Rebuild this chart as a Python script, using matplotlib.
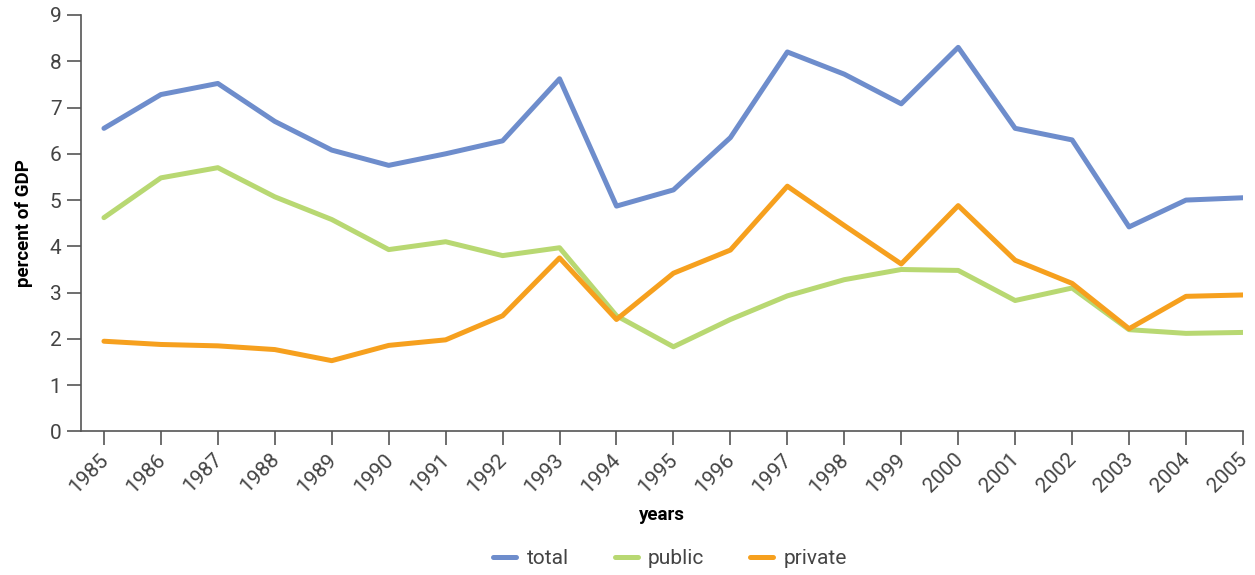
import matplotlib.pyplot as plt

years = list(range(1985, 2006))
total = [6.55, 7.28, 7.52, 6.70, 6.08, 5.75, 6.00, 6.28, 7.62, 4.87, 5.22,
         6.35, 8.20, 7.72, 7.08, 8.30, 6.55, 6.30, 4.42, 5.00, 5.05]
public = [4.62, 5.48, 5.70, 5.07, 4.58, 3.93, 4.10, 3.80, 3.97, 2.50, 1.83,
          2.42, 2.93, 3.28, 3.50, 3.48, 2.83, 3.10, 2.20, 2.12, 2.14]
private = [1.95, 1.88, 1.85, 1.77, 1.53, 1.86, 1.98, 2.50, 3.75, 2.42, 3.42,
           3.92, 5.30, 4.45, 3.62, 4.88, 3.70, 3.20, 2.22, 2.92, 2.95]

plt.rcParams['font.family'] = ['Roboto', 'DejaVu Sans']

fig = plt.figure(figsize=(12.55, 5.75), dpi=100)
ax = fig.add_axes([0.0645, 0.2496, 0.9259, 0.7244])

ax.plot(years, total, color='#6e8dcc', lw=3.6, label='total', solid_capstyle='round')
ax.plot(years, public, color='#b8d872', lw=3.6, label='public', solid_capstyle='round')
ax.plot(years, private, color='#f6a01e', lw=3.6, label='private', solid_capstyle='round')

ax.set_xlim(1985 - 23 / 56.95, 2005)
ax.set_ylim(0, 9)
ax.set_xticks(years)
ax.set_xticklabels([str(y) for y in years], rotation=45, ha='right',
                   va='center_baseline', rotation_mode='anchor')
ax.set_yticks(range(0, 10))

for s in ['top', 'right']:
    ax.spines[s].set_visible(False)
for s in ['left', 'bottom']:
    ax.spines[s].set_color('#555555')
    ax.spines[s].set_linewidth(1.2)
ax.tick_params(axis='both', colors='#555555', labelcolor='#444444', labelsize=15,
               length=10, width=1.2)
ax.tick_params(axis='y', pad=4)
ax.tick_params(axis='x', pad=7)

ax.set_ylabel('percent of GDP', fontsize=13.5, fontweight='bold', labelpad=12)
ax.set_xlabel('years', fontsize=13.5, fontweight='bold', labelpad=7)

leg = fig.legend(loc='center', bbox_to_anchor=(0.534, 0.029), ncol=3, frameon=False,
                 handlelength=1.1, columnspacing=2.2, handletextpad=0.5,
                 labelcolor='#444444', prop={'size': 15})
for h in leg.legend_handles:
    h.set_solid_capstyle('round')

fig.savefig('out.png', dpi=100)
